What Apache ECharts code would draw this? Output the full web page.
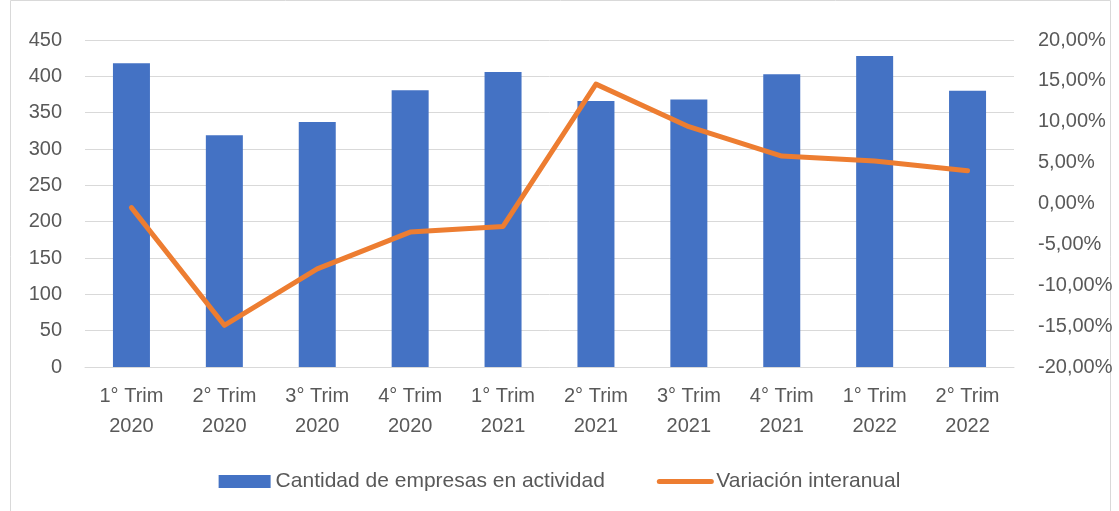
<!DOCTYPE html>
<html>
<head>
<meta charset="utf-8">
<script src="https://cdn.jsdelivr.net/npm/echarts@6/dist/echarts.min.js"></script>
<style>
  html, body { margin: 0; padding: 0; background: #fff; }
  #chart { width: 1119px; height: 511px; }
</style>
</head>
<body>
<div id="chart"></div>
<script>
// trimestres
var categories = ["1° Trim\n2020", "2° Trim\n2020", "3° Trim\n2020", "4° Trim\n2020",
  "1° Trim\n2021", "2° Trim\n2021", "3° Trim\n2021", "4° Trim\n2021",
  "1° Trim\n2022", "2° Trim\n2022"];
// Cantidad de empresas en actividad
var empresas = [418, 319, 337, 381, 406, 366, 368, 403, 428, 380];
// Variación interanual (%)
var variacion = [-0.5, -14.9, -8.0, -3.5, -2.8, 14.6, 9.4, 5.8, 5.2, 4.0];

var font = "'Liberation Sans', 'Noto Sans', sans-serif";
var gray = "#595959";

var chart = echarts.init(document.getElementById("chart"));
chart.setOption({
  animation: false,
  textStyle: { fontFamily: font },
  graphic: [{
    type: "rect",
    shape: { x: 10.5, y: 0.5, width: 1100, height: 530 },
    style: { fill: "none", stroke: "#d9d9d9", lineWidth: 1 }
  }],
  grid: { left: 85, right: 105, top: 40, bottom: 144 },
  legend: {
    bottom: 14,
    left: "center",
    itemGap: 52,
    itemWidth: 52,
    itemHeight: 13,
    textStyle: { color: gray, fontSize: 21, fontFamily: font },
    data: [
      { name: "Cantidad de empresas en actividad", icon: "rect" },
      {
        name: "Variación interanual",
        itemStyle: { opacity: 0 },
        lineStyle: { width: 5, cap: "round", color: "#ed7d31" }
      }
    ]
  },
  xAxis: {
    type: "category",
    data: categories,
    axisLine: { lineStyle: { color: "#d9d9d9", width: 1 } },
    axisTick: { show: false },
    axisLabel: { color: gray, fontSize: 20, lineHeight: 30, margin: 14, interval: 0 }
  },
  yAxis: [{
    type: "value",
    min: 0, max: 450, interval: 50,
    axisLine: { show: false },
    axisTick: { show: false },
    splitLine: { lineStyle: { color: "#d9d9d9", width: 1 } },
    axisLabel: { color: gray, fontSize: 20, margin: 23 }
  }, {
    type: "value",
    min: -20, max: 20, interval: 5,
    axisLine: { show: false },
    axisTick: { show: false },
    splitLine: { show: false },
    axisLabel: {
      color: gray, fontSize: 20, margin: 24,
      formatter: function (v) { return v.toFixed(2).replace(".", ",") + "%"; }
    }
  }],
  series: [{
    name: "Cantidad de empresas en actividad",
    type: "bar",
    data: empresas,
    barWidth: 37,
    itemStyle: { color: "#4472c4" }
  }, {
    name: "Variación interanual",
    type: "line",
    yAxisIndex: 1,
    data: variacion,
    symbol: "none",
    lineStyle: { color: "#ed7d31", width: 5, cap: "round", join: "round" },
    itemStyle: { color: "#ed7d31" }
  }]
});
</script>
</body>
</html>
